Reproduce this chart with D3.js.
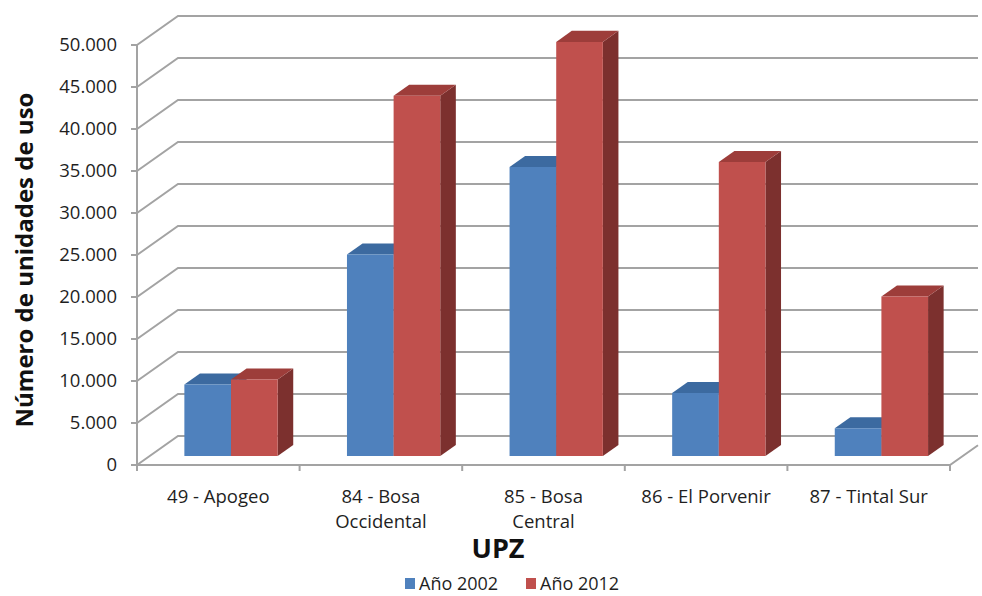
<!DOCTYPE html>
<html>
<head>
<meta charset="utf-8">
<script src="https://cdn.jsdelivr.net/npm/d3@7"></script>
<style>
  body { margin: 0; background: #fff; }
  svg { display: block; font-family: 'Open Sans', sans-serif; }
</style>
</head>
<body>
<div id="container"></div>
<script>
// data
const categories = ['49 - Apogeo', '84 - Bosa\nOccidental', '85 - Bosa\nCentral', '86 - El Porvenir', '87 - Tintal Sur'];
const series = ['Año 2002', 'Año 2012'];
const values2002 = [8500, 24000, 34400, 7500, 3300];
const values2012 = [9100, 42900, 49300, 35000, 19000];
const yTicks = [0, 5000, 10000, 15000, 20000, 25000, 30000, 35000, 40000, 45000, 50000];

const colors = {
  'Año 2002': { front: '#4f81bd', top: '#3c6aa0', side: '#345c8c' },
  'Año 2012': { front: '#c0504d', top: '#9d3d3a', side: '#7c302e' }
};

const w = 982;
const h = 596;

const svg = d3.select('#container')
  .append('svg')
  .attr('width', w)
  .attr('height', h);

const x = d3.scaleBand()
  .domain(categories)
  .range([137, 950]);

const x1 = d3.scaleBand()
  .domain(series)
  .range([0, x.bandwidth()])
  .paddingOuter(0.743);

const y = d3.scaleLinear()
  .domain([0, 50000])
  .range([465, 45]);

// depth: z = 0 front plane, z = 1 back wall
const DX = 41;
const DY = -29;
const proj = (px, py, z) => [px + z * DX, py + z * DY];
const z0 = 0.31;
const z1 = 0.69;

const fmt = d3.formatLocale({ decimal: ',', thousands: '.', grouping: [3], currency: ['$', ''] }).format(',d');

const grid = svg.append('g')
  .attr('stroke', '#a3a3a3')
  .attr('stroke-width', 2)
  .attr('fill', 'none');

const xRight = 978;

// back wall lines + left wall diagonals
yTicks.forEach(v => {
  const a = [137, y(v)];
  const b = proj(137, y(v), 1);
  grid.append('path').attr('d', d3.line()([a, b, [xRight, b[1]]]));
});

// floor front edge and right diagonal
const fr = [950, y(0)];
const br = proj(950, y(0), 1);
const t = (xRight - fr[0]) / (br[0] - fr[0]);
grid.append('path')
  .attr('d', d3.line()([[137, y(0)], fr, [xRight, fr[1] + t * (br[1] - fr[1])]]));

// front value axis
grid.append('line')
  .attr('x1', 137).attr('x2', 137)
  .attr('y1', y(50000)).attr('y2', y(0));

grid.selectAll('.ytick')
  .data(yTicks)
  .enter()
  .append('line')
  .attr('x1', 131).attr('x2', 137)
  .attr('y1', d => y(d)).attr('y2', d => y(d));

grid.selectAll('.xtick')
  .data(categories.concat([null]))
  .enter()
  .append('line')
  .attr('x1', (d, i) => 137 + i * x.step())
  .attr('x2', (d, i) => 137 + i * x.step())
  .attr('y1', y(0)).attr('y2', y(0) + 6);

// bars
const bars = [];
categories.forEach((c, i) => {
  bars.push({ cat: c, s: series[0], v: values2002[i] });
  bars.push({ cat: c, s: series[1], v: values2012[i] });
});

const bg = svg.append('g');
bars.forEach(d => {
  const xl = x(d.cat) + x1(d.s);
  const xr = xl + x1.bandwidth();
  const yt = y(d.v);
  const yb = y(0);
  const c = colors[d.s];
  const poly = pts => pts.map(p => p.join(',')).join(' ');
  const f = [proj(xl, yt, z0), proj(xr, yt, z0), proj(xr, yb, z0), proj(xl, yb, z0)];
  const top = [proj(xl, yt, z0), proj(xl, yt, z1), proj(xr, yt, z1), proj(xr, yt, z0)];
  const side = [proj(xr, yt, z0), proj(xr, yt, z1), proj(xr, yb, z1), proj(xr, yb, z0)];
  bg.append('polygon').attr('points', poly(side)).attr('fill', c.side);
  bg.append('polygon').attr('points', poly(top)).attr('fill', c.top);
  bg.append('polygon').attr('points', poly(f)).attr('fill', c.front);
});

// y tick labels
svg.append('g')
  .selectAll('text')
  .data(yTicks)
  .enter()
  .append('text')
  .attr('x', 117)
  .attr('y', d => y(d))
  .attr('dy', '0.33em')
  .attr('text-anchor', 'end')
  .attr('font-size', 18.5)
  .attr('fill', '#1f1f1f')
  .text(d => fmt(d));

// category labels
const cl = svg.append('g')
  .selectAll('text')
  .data(categories)
  .enter()
  .append('text')
  .attr('text-anchor', 'middle')
  .attr('font-size', 18.5)
  .attr('fill', '#1f1f1f');
cl.selectAll('tspan')
  .data(d => d.split('\n').map(s => ({ s, c: d })))
  .enter()
  .append('tspan')
  .attr('x', d => x(d.c) + x.bandwidth() / 2)
  .attr('y', (d, i) => 503 + i * 25)
  .text(d => d.s);

// axis titles
svg.append('text')
  .attr('transform', 'translate(33,260) rotate(-90)')
  .attr('text-anchor', 'middle')
  .attr('font-size', 24)
  .attr('font-weight', 'bold')
  .attr('fill', '#111')
  .text('Número de unidades de uso');

svg.append('text')
  .attr('x', 498)
  .attr('y', 558)
  .attr('text-anchor', 'middle')
  .attr('font-size', 27)
  .attr('font-weight', 'bold')
  .attr('fill', '#111')
  .text('UPZ');

// legend
const lg = svg.append('g')
  .selectAll('g')
  .data(series)
  .enter()
  .append('g')
  .attr('transform', (d, i) => `translate(${405 + i * 121},578)`);
lg.append('rect')
  .attr('width', 10).attr('height', 11)
  .attr('fill', d => colors[d].front);
lg.append('text')
  .attr('x', 14)
  .attr('y', 5.5)
  .attr('dy', '0.35em')
  .attr('font-size', 18)
  .attr('fill', '#1f1f1f')
  .text(d => d);
</script>
</body>
</html>
